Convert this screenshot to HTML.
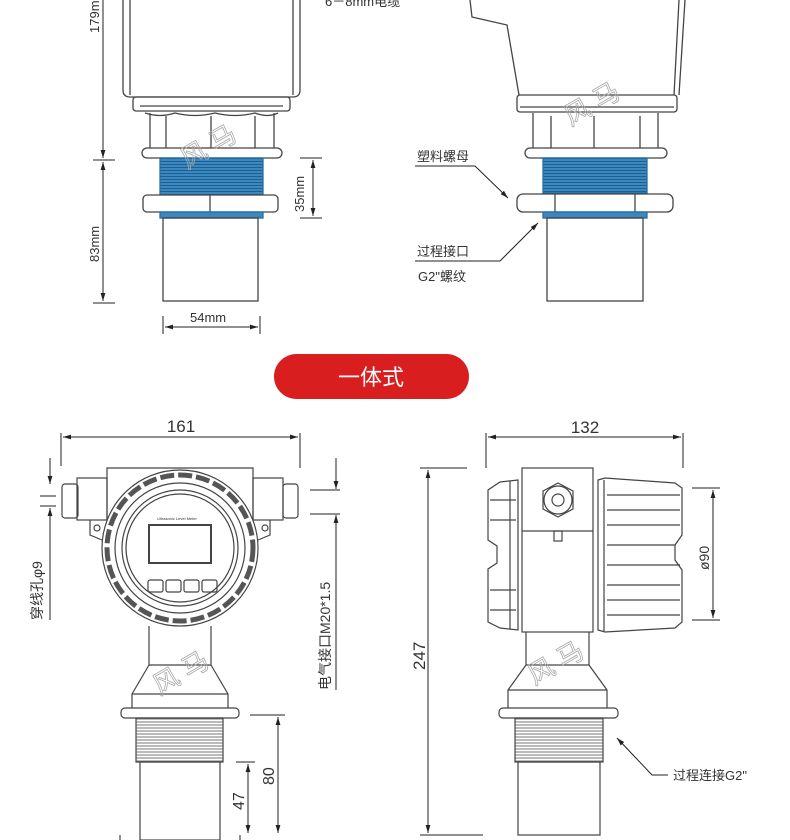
<!DOCTYPE html>
<html><head><meta charset="utf-8"><style>
html,body{margin:0;padding:0;background:#fff;}
svg{display:block;}
text{font-family:"Liberation Sans","Noto Sans CJK SC",sans-serif;fill:#333;}
</style></head><body>
<svg width="790" height="840" viewBox="0 0 790 840" xmlns="http://www.w3.org/2000/svg">
<defs>
<marker id="a" viewBox="0 0 10 10" refX="10" refY="5" markerWidth="8" markerHeight="8" orient="auto-start-reverse"><path d="M0,2 L10,5 L0,8 z" fill="#222"/></marker>
<pattern id="thr" width="6" height="3" patternUnits="userSpaceOnUse"><rect width="6" height="3" fill="#3b87c0"/><line x1="0" y1="2.5" x2="6" y2="2.5" stroke="#1d5f92" stroke-width="1"/></pattern>
<pattern id="thg" width="6" height="3" patternUnits="userSpaceOnUse"><rect width="6" height="3" fill="#fff"/><line x1="0" y1="2" x2="6" y2="2" stroke="#777" stroke-width="1"/></pattern>
</defs>
<g fill="none" stroke="#444" stroke-width="1.3">
<!-- TOP LEFT -->
<path d="M123,0 V90 Q123,97 130,97 H293 Q300,97 300,90 V0"/>
<line x1="130" y1="0" x2="130" y2="95"/><line x1="293" y1="0" x2="293" y2="95"/>
<rect x="133" y="97" width="157" height="14" rx="3"/>
<line x1="140" y1="106" x2="283" y2="106"/>
<path d="M145,113 Q160,118 175,113 Q195,118 215,113 Q235,118 255,113 Q268,118 278,113"/>
<line x1="150" y1="113" x2="150" y2="148"/><line x1="166" y1="116" x2="166" y2="148"/><line x1="211" y1="116" x2="211" y2="148"/><line x1="255" y1="116" x2="255" y2="148"/><line x1="274" y1="113" x2="274" y2="148"/>
<rect x="142" y="148" width="140" height="10" rx="5"/>
<rect x="160" y="158" width="103" height="37" fill="url(#thr)" stroke="#2a6da0"/>
<rect x="143" y="195" width="135" height="17" rx="4" fill="#fff"/>
<line x1="210" y1="195" x2="210" y2="212"/>
<rect x="160" y="212" width="103" height="6" fill="#3b87c0" stroke="#2a6da0"/>
<rect x="163" y="218" width="95" height="83"/>
</g>
<g fill="none" stroke="#222" stroke-width="1">
<line x1="103" y1="0" x2="103" y2="158" marker-end="url(#a)"/>
<line x1="93" y1="160" x2="115" y2="160"/>
<line x1="103" y1="162" x2="103" y2="301" marker-start="url(#a)" marker-end="url(#a)"/>
<line x1="93" y1="303" x2="115" y2="303"/>
<line x1="300" y1="158" x2="322" y2="158"/><line x1="300" y1="218" x2="322" y2="218"/>
<line x1="313" y1="160" x2="313" y2="216" marker-start="url(#a)" marker-end="url(#a)"/>
<line x1="163" y1="316" x2="163" y2="334"/><line x1="260" y1="316" x2="260" y2="334"/>
<line x1="165" y1="327" x2="258" y2="327" marker-start="url(#a)" marker-end="url(#a)"/>
</g>
<text transform="translate(99,33) rotate(-90)" font-size="13" fill="#2b4a66">179m</text>
<text transform="translate(99,262) rotate(-90)" font-size="13">83mm</text>
<text transform="translate(304,212) rotate(-90)" font-size="13">35mm</text>
<text x="190" y="322" font-size="13">54mm</text>
<text x="325" y="6" font-size="13">6－8mm电缆</text>

<!-- TOP RIGHT -->
<g fill="none" stroke="#444" stroke-width="1.3">
<path d="M470,0 L472,17 L507,25 L519,95"/>
<line x1="685" y1="0" x2="679" y2="95"/><line x1="679" y1="0" x2="674" y2="95"/>
<rect x="517" y="95" width="160" height="17" rx="3"/>
<line x1="520" y1="107" x2="674" y2="107"/>
<line x1="533" y1="113" x2="533" y2="148"/><line x1="551" y1="116" x2="551" y2="148"/><line x1="594" y1="116" x2="594" y2="148"/><line x1="640" y1="116" x2="640" y2="148"/><line x1="658" y1="113" x2="658" y2="148"/>
<rect x="525" y="148" width="142" height="10" rx="5"/>
<rect x="543" y="158" width="104" height="35" fill="url(#thr)" stroke="#2a6da0"/>
<rect x="517" y="194" width="156" height="18" rx="6" fill="#fff"/>
<line x1="555" y1="194" x2="555" y2="212"/><line x1="635" y1="194" x2="635" y2="212"/>
<rect x="543" y="212" width="104" height="6" fill="#3b87c0" stroke="#2a6da0"/>
<rect x="547" y="218" width="96" height="83"/>
</g>
<g fill="none" stroke="#222" stroke-width="1">
<polyline points="415,166 475,166 508,198" marker-end="url(#a)"/>
<polyline points="415,261 500,261 538,223" marker-end="url(#a)"/>
</g>
<text x="417" y="161" font-size="13">塑料螺母</text>
<text x="417" y="256" font-size="13">过程接口</text>
<text x="418" y="281" font-size="13">G2"螺纹</text>

<!-- PILL -->
<rect x="274" y="354" width="195" height="45" rx="22.5" fill="#d81e1f"/>
<text x="371" y="385" font-size="22" text-anchor="middle" style="fill:#fff">一体式</text>

<!-- BOTTOM LEFT -->
<g fill="none" stroke="#444" stroke-width="1.2">
<path d="M107,530 V468 H253 V530"/>
<rect x="77" y="478" width="30" height="42"/><rect x="253" y="478" width="30" height="42"/>
<rect x="62" y="484" width="16" height="34" rx="3"/><rect x="283" y="484" width="15" height="34" rx="3"/>
<path d="M90,520 V535 L102,540"/><path d="M270,520 V535 L258,540"/>
<circle cx="97" cy="528" r="3"/><circle cx="265" cy="528" r="3"/>
<circle cx="180" cy="548" r="78" fill="#fff"/>
<circle cx="180" cy="548" r="73" stroke="#555" stroke-width="5" stroke-dasharray="14 4"/>
<circle cx="180" cy="548" r="65"/>
<circle cx="180" cy="548" r="58"/>
<circle cx="180" cy="548" r="54"/>
<rect x="149" y="525" width="62" height="38" stroke-width="2"/>
<rect x="148" y="580" width="15" height="12" rx="2"/><rect x="166" y="580" width="15" height="12" rx="2"/><rect x="184" y="580" width="15" height="12" rx="2"/><rect x="202" y="580" width="15" height="12" rx="2"/>
<path d="M149,626 V665 L132,694 V708"/><path d="M211,626 V665 L228,694 V708"/>
<line x1="149" y1="665" x2="211" y2="665"/><line x1="132" y1="694" x2="228" y2="694"/>
<rect x="121" y="708" width="118" height="10" rx="4"/>
<rect x="136" y="718" width="87" height="44" fill="url(#thg)"/>
<rect x="140" y="762" width="80" height="78"/>
</g>
<text x="157" y="520" font-size="4" fill="#555">Ultrasonic Level Meter</text>
<g fill="none" stroke="#222" stroke-width="1">
<line x1="61" y1="433" x2="61" y2="466"/><line x1="300" y1="433" x2="300" y2="468"/>
<line x1="63" y1="437" x2="298" y2="437" marker-start="url(#a)" marker-end="url(#a)"/>
<line x1="50" y1="458" x2="50" y2="484" marker-end="url(#a)"/>
<line x1="50" y1="620" x2="50" y2="508" marker-end="url(#a)"/>
<line x1="40" y1="496" x2="56" y2="496"/><line x1="40" y1="506" x2="56" y2="506"/>
<line x1="336" y1="458" x2="336" y2="489" marker-end="url(#a)"/>
<line x1="336" y1="690" x2="336" y2="515" marker-end="url(#a)"/>
<line x1="310" y1="490" x2="340" y2="490"/><line x1="310" y1="514" x2="340" y2="514"/>
<line x1="250" y1="715" x2="285" y2="715"/><line x1="236" y1="762" x2="255" y2="762"/>
<line x1="278" y1="717" x2="278" y2="833" marker-start="url(#a)" marker-end="url(#a)"/>
<line x1="248" y1="764" x2="248" y2="833" marker-start="url(#a)" marker-end="url(#a)"/>
<line x1="120" y1="835" x2="120" y2="840"/><line x1="240" y1="835" x2="240" y2="840"/>
</g>
<text x="181" y="432" font-size="17" text-anchor="middle">161</text>
<text transform="translate(42,620) rotate(-90)" font-size="14">穿线孔φ9</text>
<text transform="translate(330,690) rotate(-90)" font-size="14">电气接口M20*1.5</text>
<text transform="translate(274,785) rotate(-90)" font-size="16">80</text>
<text transform="translate(244,810) rotate(-90)" font-size="16">47</text>

<!-- BOTTOM RIGHT -->
<g fill="none" stroke="#444" stroke-width="1.2">
<rect x="522" y="468" width="71" height="164"/>
<line x1="522" y1="531" x2="593" y2="531"/>
<polygon points="558,483 573,491 573,509 558,517 543,509 543,491"/>
<circle cx="558" cy="500" r="14"/><circle cx="558" cy="500" r="6"/>
<rect x="554" y="531" width="8" height="10"/>
<path d="M518,480 L500,482 L488,490 V540 L497,546 V563 L488,569 V622 L500,628 L518,630 Z"/>
<line x1="510" y1="481" x2="510" y2="629"/>
<line x1="490" y1="500" x2="516" y2="500"/><line x1="490" y1="520" x2="516" y2="520"/><line x1="490" y1="590" x2="516" y2="590"/><line x1="490" y1="610" x2="516" y2="610"/>
<path d="M598,480 L605,478 L675,483 L682,488 V535 L675,545 V560 L682,570 V622 L675,628 L605,632 L598,630 Z"/>
<line x1="604" y1="480" x2="604" y2="631"/>
<line x1="607" y1="495" x2="680" y2="495"/><line x1="607" y1="510" x2="680" y2="510"/><line x1="607" y1="525" x2="680" y2="525"/><line x1="607" y1="545" x2="675" y2="545"/><line x1="607" y1="565" x2="680" y2="565"/><line x1="607" y1="585" x2="680" y2="585"/><line x1="607" y1="600" x2="680" y2="600"/><line x1="607" y1="615" x2="680" y2="615"/>
<path d="M526,632 V665 L508,690 V708"/><path d="M589,632 V665 L607,690 V708"/>
<line x1="526" y1="665" x2="589" y2="665"/><line x1="508" y1="690" x2="607" y2="690"/>
<rect x="499" y="708" width="119" height="10" rx="4"/>
<rect x="515" y="718" width="88" height="44" fill="url(#thg)"/>
<rect x="518" y="762" width="82" height="73"/>
</g>
<g fill="none" stroke="#222" stroke-width="1">
<line x1="486" y1="433" x2="486" y2="468"/><line x1="683" y1="433" x2="683" y2="468"/>
<line x1="488" y1="437" x2="681" y2="437" marker-start="url(#a)" marker-end="url(#a)"/>
<line x1="420" y1="468" x2="467" y2="468"/><line x1="420" y1="835" x2="483" y2="835"/>
<line x1="428" y1="470" x2="428" y2="833" marker-start="url(#a)" marker-end="url(#a)"/>
<line x1="692" y1="488" x2="720" y2="488"/><line x1="692" y1="620" x2="720" y2="620"/>
<line x1="713" y1="490" x2="713" y2="618" marker-start="url(#a)" marker-end="url(#a)"/>
<polyline points="668,775 652,775 617,738" marker-end="url(#a)"/>
</g>
<text x="585" y="433" font-size="17" text-anchor="middle">132</text>
<text transform="translate(425,670) rotate(-90)" font-size="17">247</text>
<text transform="translate(709,570) rotate(-90)" font-size="14">ø90</text>
<text x="673" y="780" font-size="13">过程连接G2"</text>

<!-- watermarks -->
<g font-size="26" style="fill:none" stroke="#aaa" stroke-width="0.8">
<text x="178" y="165" transform="rotate(-30 190 150)" style="fill:none">风 马</text>
<text x="563" y="122" transform="rotate(-30 575 110)" style="fill:none">风 马</text>
<text x="150" y="690" transform="rotate(-30 165 675)" style="fill:none">风 马</text>
<text x="525" y="680" transform="rotate(-30 540 665)" style="fill:none">风 马</text>
</g>
</svg>
</body></html>
